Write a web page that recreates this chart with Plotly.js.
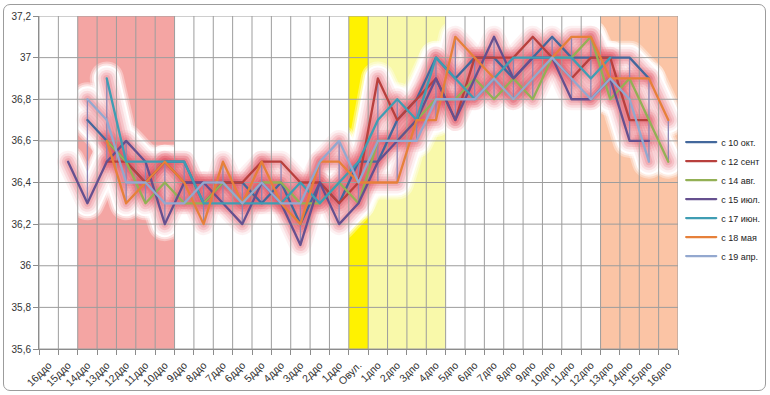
<!DOCTYPE html>
<html>
<head>
<meta charset="utf-8">
<script src="https://cdn.plot.ly/plotly-3.0.1.min.js"></script>
<style>
  html, body { margin: 0; padding: 0; background: #ffffff; }
  #chart { width: 770px; height: 395px; position: absolute; left: 0; top: 0; }
  #frame { position: absolute; left: 3px; top: 4px; width: 761px; height: 385px;
           border: 1px solid #9c9c9c; border-radius: 7px; pointer-events: none; }
  .js-line { stroke-linejoin: round !important; stroke-linecap: round !important; }
</style>
</head>
<body>
<div id="chart"></div>
<div id="frame"></div>
<script>
// ---- categories (x axis) ----
const categories = ['16ддо','15ддо','14ддо','13ддо','12ддо','11ддо','10ддо','9ддо','8ддо','7ддо','6ддо','5ддо','4ддо','3ддо','2ддо','1ддо','Овул.',
  '1дпо','2дпо','3дпо','4дпо','5дпо','6дпо','7дпо','8дпо','9дпо','10дпо','11дпо','12дпо','13дпо','14дпо','15дпо','16дпо'];

// ---- y ticks ----
const yTickVals = [35.6, 35.8, 36.0, 36.2, 36.4, 36.6, 36.8, 37.0, 37.2];
const yTickText = ['35,6', '35,8', '36', '36,2', '36,4', '36,6', '36,8', '37', '37,2'];

// ---- series ----
const seriesNames = ['с 10 окт.', 'с 12 сент', 'с 14 авг.', 'с 15 июл.', 'с 17 июн.', 'с 18 мая', 'с 19 апр.'];
const s10okt = [null,null,36.7,36.6,36.5,36.4,36.5,36.5,36.3,36.4,36.4,36.3,36.4,36.2,36.4,36.3,36.5,36.5,36.7,36.8,37.0,36.9,37.0,37.0,36.9,37.0,37.1,37.0,37.0,37.0,37.0,36.9,null];
const s12sent = [null,null,null,36.5,36.5,36.4,36.5,36.4,36.4,36.4,36.4,36.5,36.5,36.4,36.4,36.3,36.4,36.9,36.7,36.8,36.9,36.7,37.0,37.0,37.0,37.1,37.0,36.9,37.0,37.0,36.7,36.7,null];
const s14avg = [null,null,null,36.6,36.5,36.3,36.4,36.3,36.3,36.4,36.3,36.4,36.4,36.3,36.3,36.4,36.3,36.6,36.6,36.7,36.8,36.8,36.9,36.8,36.9,36.8,37.0,37.0,37.1,36.8,36.9,36.7,36.5];
const s15iul = [null,36.5,36.3,36.5,36.6,36.5,36.2,36.4,36.4,36.3,36.2,36.4,36.3,36.1,36.4,36.2,36.3,36.5,36.6,36.7,36.9,36.7,36.9,37.1,36.9,37.0,37.0,36.8,36.8,36.9,36.6,36.6,null];
const s17iun = [null,null,null,36.9,36.5,36.5,36.5,36.5,36.3,36.3,36.3,36.3,36.3,36.4,36.3,36.4,36.5,36.7,36.8,36.7,37.0,36.9,36.8,36.9,37.0,37.0,37.0,37.0,36.9,37.0,null,null,null];
const s18maya = [null,null,null,36.6,36.3,36.4,36.5,36.4,36.2,36.5,36.3,36.5,36.3,36.2,36.5,36.5,36.4,36.4,36.4,36.7,36.7,37.1,37.0,36.9,36.8,36.9,37.0,37.1,37.1,36.9,36.9,36.9,36.7];
const s19apr = [null,null,36.8,36.7,36.4,36.4,36.3,36.3,36.4,36.4,36.3,36.4,36.3,36.3,36.5,36.6,36.4,36.6,36.6,36.6,36.8,36.8,36.8,36.9,36.8,36.9,37.0,36.9,36.8,36.9,36.8,36.5,null];
const seriesValues = [s10okt, s12sent, s14avg, s15iul, s17iun, s18maya, s19apr];
const seriesColors = ['#43689c', '#b8403d', '#93b055', '#65508f', '#3f9db3', '#e6803a', '#93a8cf'];

// ---- background bands (by category) ----
const bandFrom = ['14ддо', 'Овул.', '1дпо', '13дпо'];
const bandTo   = ['10ддо', 'Овул.', '4дпо', '16дпо'];
const bandColors = ['#f4a5a3', '#fff200', '#f9f9aa', '#fbc4a5'];

const idx = categories.map((c, i) => i);
const yMin = yTickVals[0], yMax = yTickVals[yTickVals.length - 1];

const shapes = bandFrom.map((f, k) => ({
  type: 'rect', xref: 'x', yref: 'y', layer: 'below',
  x0: categories.indexOf(f) - 0.5, x1: categories.indexOf(bandTo[k]) + 0.5,
  y0: yMin, y1: yMax, fillcolor: bandColors[k], line: { width: 0 }
}));

const traces = [];
// white outer glow (soft edge)
[[34, 'rgba(255,255,255,0.35)'], [30, 'rgba(255,255,255,0.5)'], [26, 'rgba(255,255,255,1)']].forEach(([w, c]) => {
  seriesValues.forEach(v => traces.push({ x: idx, y: v, mode: 'lines', line: { color: c, width: w },
    hoverinfo: 'skip', showlegend: false }));
});
// pink inner glow
[[22, 'rgba(240,140,150,0.12)'], [17, 'rgba(234,110,122,0.16)'], [12, 'rgba(228,95,110,0.2)'], [7, 'rgba(222,85,100,0.2)']].forEach(([w, c]) => {
  seriesValues.forEach(v => traces.push({ x: idx, y: v, mode: 'lines', line: { color: c, width: w },
    hoverinfo: 'skip', showlegend: false }));
});
// gridlines (drawn above glow)
const gx = [], gy = [];
for (let i = 0; i <= categories.length; i++) { gx.push(i - 0.5, i - 0.5, null); gy.push(yMin, yMax, null); }
yTickVals.forEach(t => { gx.push(-0.5, categories.length - 0.5, null); gy.push(t, t, null); });
traces.push({ x: gx, y: gy, mode: 'lines', line: { color: '#9d9d9d', width: 1 }, hoverinfo: 'skip', showlegend: false });
// high-low lines
const hx = [], hy = [];
idx.forEach(i => {
  const vals = seriesValues.map(s => s[i]).filter(v => v !== null);
  if (vals.length > 1) { hx.push(i, i, null); hy.push(Math.min(...vals), Math.max(...vals), null); }
});
traces.push({ x: hx, y: hy, mode: 'lines', line: { color: '#8a86b4', width: 1.3 }, hoverinfo: 'skip', showlegend: false });
// the series
seriesValues.forEach((v, k) => traces.push({ x: idx, y: v, mode: 'lines', name: seriesNames[k],
  line: { color: seriesColors[k], width: 2.3 } }));

const boundaries = [];
for (let i = 0; i <= categories.length; i++) boundaries.push(i - 0.5);

const layout = {
  width: 770, height: 395,
  margin: { l: 39, r: 92, t: 16, b: 46, autoexpand: false },
  paper_bgcolor: 'rgba(0,0,0,0)', plot_bgcolor: '#ffffff',
  font: { family: 'Liberation Sans, Arial, sans-serif', size: 10, color: '#333333' },
  showlegend: true,
  legend: { x: 1.005, y: 0.665, xanchor: 'left', yanchor: 'top', font: { size: 9, color: '#222' },
            bgcolor: 'rgba(0,0,0,0)', tracegroupgap: 0, itemwidth: 30 },
  xaxis: { range: [-0.5, categories.length - 0.5], tickmode: 'array', tickvals: idx, ticktext: categories,
           tickangle: -45, ticks: '', showgrid: false, zeroline: false, showline: true, linecolor: '#8c8c8c',
           ticklabelstandoff: 5, tickfont: { size: 10.5, color: '#333' },
           minor: { tickmode: 'array', tickvals: boundaries, ticks: 'outside', ticklen: 5, tickcolor: '#8c8c8c', showgrid: false } },
  yaxis: { range: [yMin, yMax], tickmode: 'array', tickvals: yTickVals, ticktext: yTickText,
           ticks: 'outside', ticklen: 5, tickcolor: '#8c8c8c', showgrid: false, zeroline: false,
           showline: true, linecolor: '#8c8c8c', tickfont: { size: 10, color: '#333' } },
  shapes: shapes
};

Plotly.newPlot('chart', traces, layout, { staticPlot: true, displayModeBar: false });
</script>
</body>
</html>
